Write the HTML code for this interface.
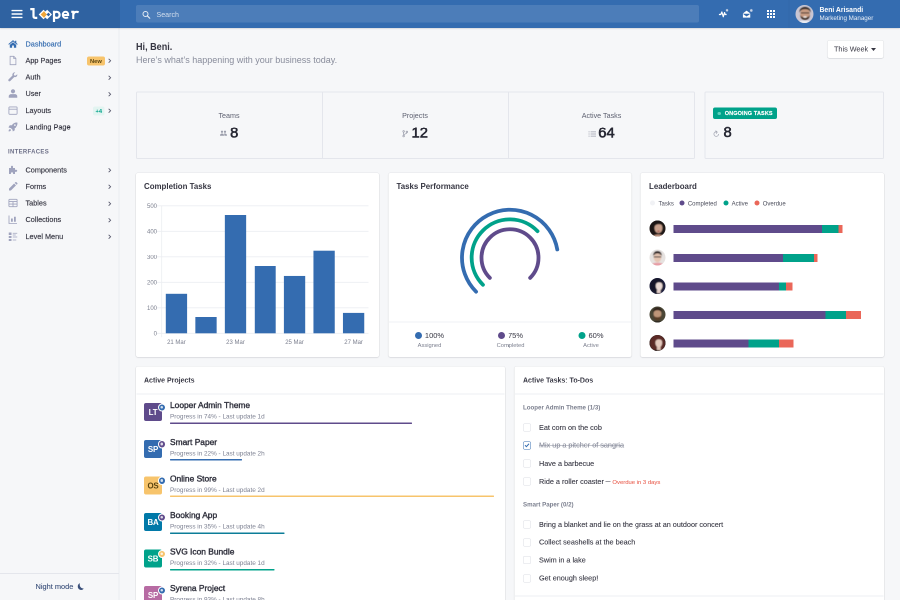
<!DOCTYPE html>
<html><head><meta charset="utf-8">
<style>
*{box-sizing:border-box;margin:0;padding:0}
html,body{width:900px;height:600px;overflow:hidden;background:#f6f7f9}
body{font-family:"Liberation Sans",sans-serif;color:#363642}
#app{position:absolute;left:0;top:0;width:1800px;height:1200px;transform:scale(.5);transform-origin:0 0;background:#f6f7f9;overflow:hidden;will-change:transform}
.abs{position:absolute}
/* header */
#hdr{position:absolute;left:0;top:0;width:1800px;height:56px;background:#346cb0;box-shadow:0 1px 3px rgba(20,20,31,.2)}
#brand{position:absolute;left:0;top:0;width:240px;height:56px;background:#2f62a1}
#search{position:absolute;left:272px;top:10px;width:1126px;height:35px;background:rgba(255,255,255,.12);border-radius:4px}
#search span{position:absolute;left:41px;top:11px;font-size:14.2px;color:rgba(255,255,255,.75)}
/* sidebar */
#side{position:absolute;left:0;top:56px;width:239px;height:1144px;background:#f6f7f9;border-right:2px solid #eaecf0}
.mi{position:absolute;left:0;width:238px;height:33px;font-size:14.6px;color:#363642}
.mi .t{position:absolute;left:51px;top:8px;white-space:nowrap;-webkit-text-stroke:.3px currentColor}
.mi svg.ic{position:absolute;left:16px;top:6px;width:20px;height:20px}
.mi .ch{position:absolute;left:216px;top:11.500px;width:7px;height:11px}
.mi.act{color:#346cb0}
.mi.act .t{font-weight:400}

.bnew{position:absolute;left:174px;top:8px;height:18px;line-height:18px;padding:0 6px;font-size:11.500px;font-weight:700;color:#5a4410;background:#f7c46c;border-radius:4px}
.bp4{position:absolute;left:186px;top:8px;height:18px;line-height:18px;padding:0 5px;font-size:11.500px;font-weight:700;color:#00a28a;background:#e3f4f1;border-radius:4px}
.mh{position:absolute;left:16px;font-size:12px;font-weight:700;letter-spacing:.6px;color:#6c6f87}
.sfoot{position:absolute;left:0;top:1090px;width:238px;height:54px;border-top:2px solid #e4e6ec;}
.sfoot span{position:absolute;left:71px;top:17px;font-size:14.800px;color:#3a4f7a;-webkit-text-stroke:.2px currentColor}
.sfoot svg{position:absolute;left:153px;top:16px;width:18px;height:18px}

.ml{font-size:14.300px;color:#5d6070;white-space:nowrap}
.mv{font-size:29.500px;font-weight:400;color:#262733;white-space:nowrap;line-height:34px;-webkit-text-stroke:1.150px #262733}
.card{background:#fff;border-radius:4px;box-shadow:0 0 0 1px rgba(20,20,31,.05),0 1px 3px 0 rgba(20,20,31,.15)}
.ct{font-size:15.800px;font-weight:700;color:#363642;white-space:nowrap}
svg text{font-family:"Liberation Sans",sans-serif}

.ch2{font-size:14px;font-weight:700;color:#363642;white-space:nowrap}
.pn{font-size:16.800px;font-weight:400;color:#30313d;white-space:nowrap;-webkit-text-stroke:.75px currentColor}
.ps{font-size:12.750px;color:#7d8192;white-space:nowrap}
.th{font-size:12.300px;font-weight:700;color:#7b7f8e;white-space:nowrap}
.ti{font-size:14.500px;color:#363642;white-space:nowrap;-webkit-text-stroke:.2px currentColor}
</style></head><body>
<div id="app">
<!--SIDEBAR-->
<div id="side"><div class="mi act" style="top:15.5px"><svg class="ic" viewBox="0 0 20 20"><path d="M10 2.2 L0.6 10.2 L2 11.6 L10 4.9 L18 11.6 L19.4 10.2 L16.6 7.8 V3.4 H14.2 V5.8 Z M10 6.4 L3.6 11.8 V17.6 H8.2 V13 H11.8 V17.6 H16.4 V11.8 Z" fill="#346cb0"/></svg><span class="t">Dashboard</span></div><div class="mi" style="top:48.7px"><svg class="ic" viewBox="0 0 20 20"><path d="M4.2 1.6 H11.6 L15.8 5.8 V18.4 H4.2 Z M11.4 1.8 V6 H15.6" fill="none" stroke="#9fa3bd" stroke-width="1.6"/></svg><span class="t">App Pages</span><span class="bnew">New</span><svg class="ch" viewBox="0 0 8 12"><path d="M1.5 1.5 L6 6 L1.5 10.5" fill="none" stroke="#55566a" stroke-width="2"/></svg></div><div class="mi" style="top:82.0px"><svg class="ic" viewBox="0 0 20 20"><path d="M18.6 4.6 c.5 2.6-.9 5.1-3.6 5.6 c-.9 .2-1.7 .1-2.5-.2 L4.6 18 c-1 1-2.6 1-3.4 0 c-.9-.9-.9-2.4 0-3.300 L9 6.900 c-.3-.8-.4-1.700-.200-2.500 c.6-2.600 3.200-4.100 5.700-3.500 L11.600 3.800 l.5 2.900 2.900 .5 Z" fill="#9fa3bd"/></svg><span class="t">Auth</span><svg class="ch" viewBox="0 0 8 12"><path d="M1.5 1.5 L6 6 L1.5 10.5" fill="none" stroke="#55566a" stroke-width="2"/></svg></div><div class="mi" style="top:115.2px"><svg class="ic" viewBox="0 0 20 20"><circle cx="10" cy="5.600" r="4.2" fill="#9fa3bd"/><path d="M1.500 18.500 V15.500 c0-2.600 2.400-4.300 5-4.300 h7 c2.600 0 5 1.700 5 4.300 V18.500 Z" fill="#9fa3bd"/></svg><span class="t">User</span><svg class="ch" viewBox="0 0 8 12"><path d="M1.5 1.5 L6 6 L1.5 10.5" fill="none" stroke="#55566a" stroke-width="2"/></svg></div><div class="mi" style="top:148.5px"><svg class="ic" viewBox="0 0 20 20"><rect x="1.800" y="2.800" width="16.400" height="14.800" rx="1.500" fill="none" stroke="#9fa3bd" stroke-width="1.700"/><path d="M2 7.400 H18" stroke="#9fa3bd" stroke-width="1.700"/></svg><span class="t">Layouts</span><span class="bp4">+4</span><svg class="ch" viewBox="0 0 8 12"><path d="M1.5 1.5 L6 6 L1.5 10.5" fill="none" stroke="#55566a" stroke-width="2"/></svg></div><div class="mi" style="top:181.7px"><svg class="ic" viewBox="0 0 20 20"><path d="M18.800 1.200 c-4.800-.5-8.600 1.400-11 5.300 H3.600 L1 10.400 l3.600 .6 l4.400 4.400 l.6 3.600 l3.900-2.600 v-4.200 c3.900-2.400 5.800-6.200 5.300-11 Z M13.800 8 a1.700 1.700 0 1 1 0-3.400 a1.700 1.700 0 0 1 0 3.400 Z M1.200 18.800 c0-2.500 .8-4.400 2.600-4.600 c1.200-.1 2.100 .8 2 2 c-.2 1.800-2.100 2.600-4.600 2.600 Z" fill="#9fa3bd"/></svg><span class="t">Landing Page</span></div><div class="mi" style="top:267.5px"><svg class="ic" viewBox="0 0 20 20"><path d="M2 6 H6.200 C5.200 3.200 6.200 1.600 8 1.600 S10.800 3.200 9.800 6 H14 V9.800 C16.800 8.800 18.400 9.800 18.400 11.600 S16.800 14.400 14 13.400 V18 H10 C10.800 15.800 9.600 14.600 8 14.600 S5.200 15.800 6 18 H2 Z" fill="#9fa3bd"/></svg><span class="t">Components</span><svg class="ch" viewBox="0 0 8 12"><path d="M1.5 1.5 L6 6 L1.5 10.5" fill="none" stroke="#55566a" stroke-width="2"/></svg></div><div class="mi" style="top:300.7px"><svg class="ic" viewBox="0 0 20 20"><path d="M2 14.200 L12.200 4 L16 7.800 L5.800 18 H2 Z M13.400 2.800 L14.800 1.400 c.6-.6 1.500-.6 2.100 0 L18.600 3.100 c.6 .6 .6 1.500 0 2.100 L17.200 6.600 Z" fill="#9fa3bd"/></svg><span class="t">Forms</span><svg class="ch" viewBox="0 0 8 12"><path d="M1.5 1.5 L6 6 L1.5 10.5" fill="none" stroke="#55566a" stroke-width="2"/></svg></div><div class="mi" style="top:334.0px"><svg class="ic" viewBox="0 0 20 20"><rect x="1.800" y="2.600" width="16.400" height="14.800" rx="1.400" fill="none" stroke="#9fa3bd" stroke-width="1.700"/><path d="M2 7.200 H18 M2 12.200 H18 M10 7.200 V17.400" stroke="#9fa3bd" stroke-width="1.700" fill="none"/></svg><span class="t">Tables</span><svg class="ch" viewBox="0 0 8 12"><path d="M1.5 1.5 L6 6 L1.5 10.5" fill="none" stroke="#55566a" stroke-width="2"/></svg></div><div class="mi" style="top:367.2px"><svg class="ic" viewBox="0 0 20 20"><path d="M2 2 V18 H18" fill="none" stroke="#9fa3bd" stroke-width="1.700"/><rect x="6" y="8" width="3.600" height="6.500" fill="#9fa3bd"/><rect x="12" y="4.500" width="3.600" height="10" fill="#9fa3bd"/></svg><span class="t">Collections</span><svg class="ch" viewBox="0 0 8 12"><path d="M1.5 1.5 L6 6 L1.5 10.5" fill="none" stroke="#55566a" stroke-width="2"/></svg></div><div class="mi" style="top:400.5px"><svg class="ic" viewBox="0 0 20 20"><rect x="1.500" y="2" width="5.500" height="5" fill="#9fa3bd"/><rect x="1.500" y="9" width="5.500" height="4" fill="#9fa3bd"/><rect x="1.500" y="15" width="5.500" height="4" fill="#9fa3bd"/><path d="M9.500 3.500 H18.500 M9.500 7 H15.500 M9.500 11 H18.500 M9.500 17 H16.500" stroke="#9fa3bd" stroke-width="1.700"/></svg><span class="t">Level Menu</span><svg class="ch" viewBox="0 0 8 12"><path d="M1.5 1.5 L6 6 L1.5 10.5" fill="none" stroke="#55566a" stroke-width="2"/></svg></div><div class="mh" style="top:240px">INTERFACES</div><div class="sfoot"><span>Night mode</span><svg viewBox="0 0 16 16"><path d="M11.500 13.800 A6.200 6.200 0 0 1 7.300 2 A6.800 6.800 0 0 0 13.800 11.600 A6.200 6.200 0 0 1 11.500 13.800 Z" fill="#3a4f7a" transform="translate(-1 0)"/></svg></div></div>
<!--HEADER-->
<div id="hdr"><div id="brand">
<svg class="abs" style="left:23px;top:19px;width:22px;height:18px" viewBox="0 0 22 18"><path d="M1 2.200 H21 M1 9 H21 M1 15.800 H21" stroke="#fff" stroke-width="2.800" stroke-linecap="round"/></svg>
<svg class="abs" style="left:58px;top:13px;width:104px;height:34px" viewBox="0 0 104 34">
<path d="M2.500 5.200 H9 V19.300 c0 2.500 1.400 3.500 3.600 3.500 H16.500" fill="none" stroke="#fff" stroke-width="4.400"/>
<path d="M29 6.400 L32.700 10.100 L36.400 6.400 L46 16 L36.400 25.600 L32.700 21.900 L29 25.600 L19.400 16 Z" fill="#fff"/>
<path d="M30 9.200 L36.800 16 L30 22.800 L23.200 16 Z" fill="#f0a63a"/>
<path d="M32.500 11 l5 5 -5 5" fill="none" stroke="#fff" stroke-width="2"/>
<path d="M38.800 12.300 L42.500 16 L38.800 19.700 L35.100 16 Z" fill="#2f62a1"/>
<path d="M50 8.400 V31" stroke="#fff" stroke-width="4.400" fill="none"/>
<path d="M50 14.500 c0-2.600 2.200-3.900 5-3.900 c3.600 0 6.200 2.200 6.200 6.100 s-2.600 6.100-6.200 6.100 c-2.800 0-5-1.300-5-3.900" fill="none" stroke="#fff" stroke-width="4.400"/>
<path d="M67.600 17 H78.400 c0-4.200-1.800-6.400-5.300-6.400 s-5.500 2.400-5.500 6.100 s2.200 6.100 5.900 6.100 c1.800 0 3.400-.4 4.600-1.200" fill="none" stroke="#fff" stroke-width="4"/>
<path d="M84.500 10.600 H88.500 V25 M88.500 17 c.6-3.800 2.900-6.300 6.600-6.300 c1.600 0 3 .3 4.200 1" fill="none" stroke="#fff" stroke-width="4.200"/>
</svg>
</div>
<div id="search"><svg class="abs" style="left:12px;top:11px;width:17px;height:17px" viewBox="0 0 17 17"><circle cx="7" cy="7" r="5" fill="none" stroke="rgba(255,255,255,.85)" stroke-width="2"/><path d="M10.800 10.800 L15.500 15.500" stroke="rgba(255,255,255,.85)" stroke-width="2.400" stroke-linecap="round"/></svg><span>Search</span></div>
<svg class="abs" style="left:1437px;top:16px;width:20px;height:20px" viewBox="0 0 24 24"><path d="M1 15.500 H5.500 L8 9.500 L11.500 21 L14.500 11 L16 15.500 H19.500" fill="none" stroke="#fff" stroke-width="2.900" stroke-linejoin="round"/><circle cx="20.500" cy="5.500" r="3.400" fill="#c9d3e6" stroke="#346cb0" stroke-width="1"/></svg>
<svg class="abs" style="left:1484px;top:17px;width:22px;height:22px" viewBox="0 0 24 24"><path d="M2 10.500 L10 4.500 L18 10.500 V20 H2 Z" fill="#fff"/><path d="M4.500 11.500 H15.500 V13.500 L10 17 L4.500 13.500 Z" fill="#346cb0"/><path d="M2 11 L10 16.500 L18 11" fill="none" stroke="#346cb0" stroke-width="1.200"/><circle cx="20.300" cy="4.300" r="3.400" fill="#c9d3e6" stroke="#346cb0" stroke-width="1"/></svg>
<svg class="abs" style="left:1534px;top:20px;width:16px;height:16px" viewBox="0 0 16 16"><g fill="#fff"><rect x="0" y="0" width="4" height="4"/><rect x="6" y="0" width="4" height="4"/><rect x="12" y="0" width="4" height="4"/><rect x="0" y="6" width="4" height="4"/><rect x="6" y="6" width="4" height="4"/><rect x="12" y="6" width="4" height="4"/><rect x="0" y="12" width="4" height="4"/><rect x="6" y="12" width="4" height="4"/><rect x="12" y="12" width="4" height="4"/></g></svg>
<div class="abs" style="left:1577px;top:0;width:2px;height:56px;background:rgba(0,0,0,.035)"></div>
<svg class="abs" style="left:1591px;top:10px;width:36px;height:36px" viewBox="0 0 36 36"><defs><clipPath id="av0"><circle cx="18" cy="18" r="18"/></clipPath><filter id="bl0"><feGaussianBlur stdDeviation=".9"/></filter></defs><g clip-path="url(#av0)"><rect width="36" height="36" fill="#c9c6d3"/><g filter="url(#bl0)" transform="translate(18 19) scale(1.12) translate(-18 -18)"><path d="M2 40 c0-9 7-11 16-11 s16 2 16 11 Z" fill="#e9ebf2"/><ellipse cx="19" cy="17" rx="8.800" ry="11" fill="#c89b82"/><path d="M9 15 c-1.500-14 21.500-14 20 0 c-2-5-5-6.500-10-6.500 s-8 1.500-10 6.500 Z" fill="#2a211f"/><path d="M10.300 18 c0 13 17.400 13 17.400 0 c-1 4-4 5-8.700 5 s-7.700-1-8.700-5 Z" fill="#3c2a23"/><ellipse cx="19" cy="22.500" rx="3.300" ry="1.500" fill="#f3ece8"/><rect x="11.500" y="14.300" width="15" height="1.800" fill="#2f2522"/></g></g></svg>
<div class="abs" style="left:1639px;top:11px;font-size:14.500px;font-weight:700;color:#fff;white-space:nowrap;transform:scaleX(.94);transform-origin:0 0">Beni Arisandi</div>
<div class="abs" style="left:1639px;top:29px;font-size:12.500px;color:rgba(255,255,255,.9);white-space:nowrap">Marketing Manager</div>
</div>
<!--PAGE-->
<div id="page">
<div class="abs" style="left:272px;top:81px;font-size:20.500px;font-weight:700;color:#363642;white-space:nowrap;transform:scaleX(.885);transform-origin:0 0" id="t1">Hi, Beni.</div>
<div class="abs" style="left:272px;top:110px;font-size:18px;color:#888c9b;white-space:nowrap" id="t2">Here’s what’s happening with your business today.</div>
<div class="abs" style="left:1655px;top:81px;width:112px;height:35px;background:#fff;border-radius:4px;box-shadow:0 0 0 1px rgba(61,70,79,.12),0 1px 2px rgba(61,70,79,.15)"><span class="abs" style="left:13px;top:9px;font-size:14.500px;color:#363642;white-space:nowrap" id="tw">This Week</span><svg class="abs" style="left:87px;top:15px;width:10px;height:6px" viewBox="0 0 10 6"><path d="M0 0 H10 L5 6 Z" fill="#363642"/></svg></div>
<div class="abs" style="left:272px;top:183px;width:1118px;height:135px;border:2px solid #e4e6ec;border-radius:3px"></div>
<div class="abs" style="left:644px;top:184px;width:2px;height:133px;background:#e4e6ec"></div>
<div class="abs" style="left:1016px;top:184px;width:2px;height:133px;background:#e4e6ec"></div>
<div class="abs" style="left:1409px;top:183px;width:359px;height:135px;border:2px solid #e4e6ec;border-radius:3px"></div>
<div class="abs ml" style="left:358px;top:223px;width:200px;text-align:center">Teams</div><div class="abs mv" style="left:358px;top:247.500px;width:200px;text-align:center"><svg viewBox="0 0 16 14" style="width:16px;height:14px;margin-right:5px;vertical-align:1px"><g fill="#9a9dab"><circle cx="5" cy="3.500" r="2.200"/><circle cx="11" cy="3.500" r="2.200"/><path d="M1 11.500 c0-3 1.500-4.500 4-4.500 s4 1.500 4 4.500 Z"/><path d="M9.800 11.500 c0-2-.4-3.400-1.200-4.200 c.7-.2 1.500-.3 2.400-.3 c2.500 0 4 1.500 4 4.500 Z"/></g></svg><span id="m1">8</span></div>
<div class="abs ml" style="left:730px;top:223px;width:200px;text-align:center">Projects</div><div class="abs mv" style="left:730px;top:247.500px;width:200px;text-align:center"><svg viewBox="0 0 14 16" style="width:13px;height:15px;margin-right:6px;vertical-align:0px"><g fill="none" stroke="#9a9dab" stroke-width="1.600"><circle cx="3.500" cy="3" r="1.700"/><circle cx="3.500" cy="13" r="1.700"/><circle cx="10.500" cy="4" r="1.700"/><path d="M3.500 4.700 V11.300 M10.500 5.700 c0 3-7 2.500-7 5.600"/></g></svg><span id="m2">12</span></div>
<div class="abs ml" style="left:1103px;top:223px;width:200px;text-align:center">Active Tasks</div><div class="abs mv" style="left:1103px;top:247.500px;width:200px;text-align:center"><svg viewBox="0 0 16 12" style="width:15px;height:12px;margin-right:5px;vertical-align:1px"><g stroke="#9a9dab" stroke-width="1.700"><path d="M0 1.500 H2.400 M4.500 1.500 H16 M0 6 H2.400 M4.500 6 H16 M0 10.500 H2.400 M4.500 10.500 H16"/></g></svg><span id="m3">64</span></div>
<div class="abs" style="left:1426px;top:215px;width:128px;height:23px;background:#00a28a;border-radius:4px"><span class="abs" style="left:9px;top:8.500px;width:6.500px;height:6.500px;border-radius:50%;background:#5fd0bd"></span><span class="abs" style="left:23.500px;top:5px;font-size:11px;font-weight:700;letter-spacing:.25px;color:#fff;white-space:nowrap;-webkit-text-stroke:.3px #fff" id="og">ONGOING TASKS</span></div>
<div class="abs mv" style="left:1426px;top:247px;text-align:left"><svg viewBox="0 0 14 14" style="width:13px;height:14px;margin-right:8px;vertical-align:0"><path d="M7 3 A5 5 0 1 0 12 8" fill="none" stroke="#9a9dab" stroke-width="1.500"/><path d="M7 7.500 L9.500 3.500" stroke="#9a9dab" stroke-width="1.400"/><path d="M5.500 .8 L8.500 3 L5.500 5" fill="none" stroke="#9a9dab" stroke-width="1.300"/></svg><span id="m4">8</span></div>
<div class="abs card" style="left:272px;top:346px;width:486px;height:368px"></div>
<div class="abs card" style="left:777px;top:346px;width:486px;height:368px"></div>
<div class="abs card" style="left:1281px;top:346px;width:487px;height:368px"></div>
<div class="abs ct" style="left:288px;top:364px">Completion Tasks</div>
<div class="abs ct" style="left:793px;top:364px">Tasks Performance</div>
<div class="abs ct" style="left:1298px;top:364px">Leaderboard</div>
<svg class="abs" style="left:272px;top:346px;width:486px;height:368px" viewBox="272 346 486 368"><path d="M313 666.6 H737" stroke="#ebedf1" stroke-width="1.600"/><text x="314" y="670.8" text-anchor="end" font-size="12" fill="#7b7f8e">0</text><path d="M313 615.6 H737" stroke="#ebedf1" stroke-width="1.600"/><text x="314" y="619.8" text-anchor="end" font-size="12" fill="#7b7f8e">100</text><path d="M313 564.6 H737" stroke="#ebedf1" stroke-width="1.600"/><text x="314" y="568.8" text-anchor="end" font-size="12" fill="#7b7f8e">200</text><path d="M313 513.6 H737" stroke="#ebedf1" stroke-width="1.600"/><text x="314" y="517.8" text-anchor="end" font-size="12" fill="#7b7f8e">300</text><path d="M313 462.6 H737" stroke="#ebedf1" stroke-width="1.600"/><text x="314" y="466.8" text-anchor="end" font-size="12" fill="#7b7f8e">400</text><path d="M313 411.6 H737" stroke="#ebedf1" stroke-width="1.600"/><text x="314" y="415.8" text-anchor="end" font-size="12" fill="#7b7f8e">500</text><path d="M323.400 411.6 V674.6" stroke="#ebedf1" stroke-width="1.600"/><rect x="331.6" y="587.6" width="42.600" height="79.0" fill="#346cb0"/><rect x="390.7" y="634.0" width="42.600" height="32.6" fill="#346cb0"/><rect x="449.7" y="430.0" width="42.600" height="236.6" fill="#346cb0"/><rect x="508.8" y="532.0" width="42.600" height="134.6" fill="#346cb0"/><rect x="567.8" y="551.9" width="42.600" height="114.8" fill="#346cb0"/><rect x="626.9" y="501.4" width="42.600" height="165.2" fill="#346cb0"/><rect x="685.9" y="625.8" width="42.600" height="40.8" fill="#346cb0"/><text x="352.9" y="687.6" text-anchor="middle" font-size="12" fill="#7b7f8e">21 Mar</text><text x="471.0" y="687.6" text-anchor="middle" font-size="12" fill="#7b7f8e">23 Mar</text><text x="589.1" y="687.6" text-anchor="middle" font-size="12" fill="#7b7f8e">25 Mar</text><text x="707.2" y="687.6" text-anchor="middle" font-size="12" fill="#7b7f8e">27 Mar</text></svg>
<svg class="abs" style="left:777px;top:346px;width:486px;height:368px" viewBox="777 344 486 368"><path d="M952.12 581.38 A96 96 0 1 1 1114.54 496.83" fill="none" stroke="#346cb0" stroke-width="7.600" stroke-linecap="round"/><path d="M965.91 567.59 A76.5 76.5 0 1 1 1075.03 460.36" fill="none" stroke="#00a28a" stroke-width="7.600" stroke-linecap="round"/><path d="M979.69 553.81 A57 57 0 1 1 1060.31 553.81" fill="none" stroke="#5f4b8b" stroke-width="7.600" stroke-linecap="round"/></svg>
<div class="abs" style="left:778px;top:643px;width:484px;height:2px;background:#eff0f4"></div>
<div class="abs" style="left:779px;top:662px;width:160px;text-align:center;font-size:15px;color:#363642;white-space:nowrap"><span style="display:inline-block;width:14px;height:14px;border-radius:50%;background:#346cb0;vertical-align:-1.500px;margin-right:6px"></span>100%</div><div class="abs" style="left:779px;top:684px;width:160px;text-align:center;font-size:11.500px;color:#7b7f8e;white-space:nowrap">Assigned</div>
<div class="abs" style="left:941px;top:662px;width:160px;text-align:center;font-size:15px;color:#363642;white-space:nowrap"><span style="display:inline-block;width:14px;height:14px;border-radius:50%;background:#5f4b8b;vertical-align:-1.500px;margin-right:6px"></span>75%</div><div class="abs" style="left:941px;top:684px;width:160px;text-align:center;font-size:11.500px;color:#7b7f8e;white-space:nowrap">Completed</div>
<div class="abs" style="left:1102px;top:662px;width:160px;text-align:center;font-size:15px;color:#363642;white-space:nowrap"><span style="display:inline-block;width:14px;height:14px;border-radius:50%;background:#00a28a;vertical-align:-1.500px;margin-right:6px"></span>60%</div><div class="abs" style="left:1102px;top:684px;width:160px;text-align:center;font-size:11.500px;color:#7b7f8e;white-space:nowrap">Active</div>
<div class="abs" style="left:1298px;top:399.500px;font-size:12px;color:#4a4c5a;white-space:nowrap"><span style="display:inline-block;width:10px;height:10px;border-radius:50%;background:#f1f2f5;vertical-align:-.5px;margin:0 7px 0 2px"></span>Tasks<span style="display:inline-block;width:10px;height:10px;border-radius:50%;background:#5f4b8b;vertical-align:-.5px;margin:0 6.500px 0 11.500px"></span>Completed<span style="display:inline-block;width:10px;height:10px;border-radius:50%;background:#00a28a;vertical-align:-.5px;margin:0 6.500px 0 13px"></span>Active<span style="display:inline-block;width:10px;height:10px;border-radius:50%;background:#ea6759;vertical-align:-.5px;margin:0 6.500px 0 13px"></span>Overdue</div>
<div class="abs" style="left:1346.6px;top:450.4px;width:297.4px;height:16px;background:#5f4b8b"></div>
<div class="abs" style="left:1644.0px;top:450.4px;width:33.4px;height:16px;background:#00a28a"></div>
<div class="abs" style="left:1677.4px;top:450.4px;width:8.0px;height:16px;background:#ea6759"></div>
<svg class="abs" style="left:1298.6px;top:441.4px;width:32px;height:32px" viewBox="0 0 32 32"><defs><clipPath id="lb0"><circle cx="16" cy="16" r="16"/></clipPath><filter id="lbf0"><feGaussianBlur stdDeviation=".7"/></filter></defs><g clip-path="url(#lb0)"><rect width="32" height="32" fill="#2b201f"/><g filter="url(#lbf0)" transform="translate(16 17) scale(1.28) translate(-16 -15.500)"><ellipse cx="16" cy="14" rx="12" ry="13" fill="#1a1312"/><path d="M7 34 c0-8 4-10 10-10 s10 2 10 10 Z" fill="#b98f7c"/><ellipse cx="17.500" cy="14" rx="6.200" ry="8" fill="#c9a18d"/><path d="M10 13 c0-10 15-10 15 -1 c-2-3-4-4-7-4 s-6 1.500-8 5 Z" fill="#1a1312"/><ellipse cx="17.500" cy="19" rx="2" ry=".9" fill="#a3403f"/></g></g></svg>
<div class="abs" style="left:1346.6px;top:507.6px;width:219.4px;height:16px;background:#5f4b8b"></div>
<div class="abs" style="left:1566.0px;top:507.6px;width:62.0px;height:16px;background:#00a28a"></div>
<div class="abs" style="left:1628.0px;top:507.6px;width:7.4px;height:16px;background:#ea6759"></div>
<svg class="abs" style="left:1298.6px;top:498.6px;width:32px;height:32px" viewBox="0 0 32 32"><defs><clipPath id="lb1"><circle cx="16" cy="16" r="16"/></clipPath><filter id="lbf1"><feGaussianBlur stdDeviation=".7"/></filter></defs><g clip-path="url(#lb1)"><rect width="32" height="32" fill="#e6e2e0"/><g filter="url(#lbf1)" transform="translate(16 17) scale(1.28) translate(-16 -15.500)"><path d="M3 36 c0-10 5-13 13-13 s13 3 13 13 Z" fill="#e79da5"/><ellipse cx="16" cy="14.500" rx="6" ry="7.500" fill="#e6c5b2"/><path d="M9.500 12.500 c-1-10 14-10 13 0 c-1.500-3-3.500-4-6.500-4 s-5 1-6.500 4 Z" fill="#2b2423"/><rect x="10.300" y="13" width="11.400" height="1.700" fill="#3a3030"/></g></g></svg>
<div class="abs" style="left:1346.6px;top:564.8px;width:211.4px;height:16px;background:#5f4b8b"></div>
<div class="abs" style="left:1558.0px;top:564.8px;width:14.0px;height:16px;background:#00a28a"></div>
<div class="abs" style="left:1572.0px;top:564.8px;width:13.4px;height:16px;background:#ea6759"></div>
<svg class="abs" style="left:1298.6px;top:555.8px;width:32px;height:32px" viewBox="0 0 32 32"><defs><clipPath id="lb2"><circle cx="16" cy="16" r="16"/></clipPath><filter id="lbf2"><feGaussianBlur stdDeviation=".7"/></filter></defs><g clip-path="url(#lb2)"><rect width="32" height="32" fill="#242645"/><g filter="url(#lbf2)" transform="translate(16 17) scale(1.28) translate(-16 -15.500)"><ellipse cx="15" cy="14" rx="11" ry="12" fill="#14152a"/><path d="M6 36 c0-9 4-11 11-11 s11 2 11 11 Z" fill="#1a1b33"/><path d="M15 26 h6 v-5 h-6 Z" fill="#e3cfc8"/><ellipse cx="18.500" cy="14.500" rx="5.300" ry="7.200" fill="#ebdbd5"/><path d="M12 14 c-1-10 13-10 13-1 c-2-3-4-4-6.500-4 s-5 1.500-6.500 5 Z" fill="#14152a"/></g></g></svg>
<div class="abs" style="left:1346.6px;top:622.0px;width:304.0px;height:16px;background:#5f4b8b"></div>
<div class="abs" style="left:1650.6px;top:622.0px;width:41.4px;height:16px;background:#00a28a"></div>
<div class="abs" style="left:1692.0px;top:622.0px;width:30.0px;height:16px;background:#ea6759"></div>
<svg class="abs" style="left:1298.6px;top:613.0px;width:32px;height:32px" viewBox="0 0 32 32"><defs><clipPath id="lb3"><circle cx="16" cy="16" r="16"/></clipPath><filter id="lbf3"><feGaussianBlur stdDeviation=".7"/></filter></defs><g clip-path="url(#lb3)"><rect width="32" height="32" fill="#4a4636"/><g filter="url(#lbf3)" transform="translate(16 17) scale(1.28) translate(-16 -15.500)"><path d="M4 36 c0-9 5-11 12-11 s12 2 12 11 Z" fill="#25201b"/><ellipse cx="16" cy="14" rx="6.300" ry="8" fill="#be9578"/><path d="M9.700 15 c0 12 12.600 12 12.600 0 c-1 3-3 4-6.300 4 s-5.300-1-6.300-4 Z" fill="#5a3c27"/><path d="M9 12.500 c-1-11 15-11 14 0 c-1.500-3.500-4-4.500-7-4.500 s-5.500 1-7 4.500 Z" fill="#2a1d15"/></g></g></svg>
<div class="abs" style="left:1346.6px;top:679.2px;width:150.0px;height:16px;background:#5f4b8b"></div>
<div class="abs" style="left:1496.6px;top:679.2px;width:61.4px;height:16px;background:#00a28a"></div>
<div class="abs" style="left:1558.0px;top:679.2px;width:29.4px;height:16px;background:#ea6759"></div>
<svg class="abs" style="left:1298.6px;top:670.2px;width:32px;height:32px" viewBox="0 0 32 32"><defs><clipPath id="lb4"><circle cx="16" cy="16" r="16"/></clipPath><filter id="lbf4"><feGaussianBlur stdDeviation=".7"/></filter></defs><g clip-path="url(#lb4)"><rect width="32" height="32" fill="#382524"/><g filter="url(#lbf4)" transform="translate(16 17) scale(1.28) translate(-16 -15.500)"><rect width="32" height="32" fill="#382524"/><ellipse cx="16" cy="15" rx="11.500" ry="13" fill="#5c2b27"/><path d="M5 36 c0-9 4-11 11-11 s11 2 11 11 Z" fill="#1b1515"/><path d="M15 26 h6 v-5 h-6 Z" fill="#dcc0b4"/><ellipse cx="18" cy="14.500" rx="5.300" ry="7.300" fill="#e5cabe"/><path d="M11.500 14 c-1-10 13.500-10 13-1 c-2-3-4-4-6.500-4 s-5 1.500-6.500 5 Z" fill="#5c2b27"/></g></g></svg>
<div class="abs card" style="left:272px;top:733px;width:738px;height:480px"></div>
<div class="abs card" style="left:1029px;top:733px;width:739px;height:480px"></div>
<div class="abs ch2" style="left:288px;top:752px">Active Projects</div>
<div class="abs ch2" style="left:1046px;top:752px">Active Tasks: To-Dos</div>
<div class="abs" style="left:273px;top:787px;width:736px;height:2px;background:#eceef2"></div>
<div class="abs" style="left:1030px;top:787px;width:737px;height:2px;background:#eceef2"></div>
<div class="abs" style="left:1030px;top:1191px;width:737px;height:2px;background:#eceef2"></div>
<div class="abs" style="left:288px;top:806.4px;width:36px;height:36px;border-radius:4px;background:#5f4b8b;color:#fff;font-size:15.800px;font-weight:700;line-height:38px;text-align:center;letter-spacing:-.3px">LT</div>
<div class="abs" style="left:315.500px;top:806.9px;width:16.500px;height:16.500px;border-radius:50%;background:#346cb0;border:2px solid #fff"><span class="abs" style="left:3px;top:3px;width:5.500px;height:5.500px;border-radius:50%;background:rgba(255,255,255,.8)"></span></div>
<div class="abs pn" style="left:340px;top:801.4px">Looper Admin Theme</div>
<div class="abs ps" style="left:340px;top:825.4px">Progress in 74% - Last update 1d</div>
<div class="abs" style="left:340px;top:844.9px;width:484.0px;height:3px;background:#5f4b8b;border-radius:1px"></div>
<div class="abs" style="left:288px;top:879.6px;width:36px;height:36px;border-radius:4px;background:#346cb0;color:#fff;font-size:15.800px;font-weight:700;line-height:38px;text-align:center;letter-spacing:-.3px">SP</div>
<div class="abs" style="left:315.500px;top:880.1px;width:16.500px;height:16.500px;border-radius:50%;background:#5f4b8b;border:2px solid #fff"><span class="abs" style="left:3px;top:3px;width:5.500px;height:5.500px;border-radius:50%;background:rgba(255,255,255,.8)"></span></div>
<div class="abs pn" style="left:340px;top:874.6px">Smart Paper</div>
<div class="abs ps" style="left:340px;top:898.6px">Progress in 22% - Last update 2h</div>
<div class="abs" style="left:340px;top:918.1px;width:143.9px;height:3px;background:#346cb0;border-radius:1px"></div>
<div class="abs" style="left:288px;top:952.8px;width:36px;height:36px;border-radius:4px;background:#f7c46c;color:#5a4410;font-size:15.800px;font-weight:700;line-height:38px;text-align:center;letter-spacing:-.3px">OS</div>
<div class="abs" style="left:315.500px;top:953.3px;width:16.500px;height:16.500px;border-radius:50%;background:#346cb0;border:2px solid #fff"><span class="abs" style="left:3px;top:3px;width:5.500px;height:5.500px;border-radius:50%;background:rgba(255,255,255,.8)"></span></div>
<div class="abs pn" style="left:340px;top:947.8px">Online Store</div>
<div class="abs ps" style="left:340px;top:971.8px">Progress in 99% - Last update 2d</div>
<div class="abs" style="left:340px;top:991.3px;width:647.5px;height:3px;background:#f7c46c;border-radius:1px"></div>
<div class="abs" style="left:288px;top:1026.0px;width:36px;height:36px;border-radius:4px;background:#0179a8;color:#fff;font-size:15.800px;font-weight:700;line-height:38px;text-align:center;letter-spacing:-.3px">BA</div>
<div class="abs" style="left:315.500px;top:1026.5px;width:16.500px;height:16.500px;border-radius:50%;background:#5f4b8b;border:2px solid #fff"><span class="abs" style="left:3px;top:3px;width:5.500px;height:5.500px;border-radius:50%;background:rgba(255,255,255,.8)"></span></div>
<div class="abs pn" style="left:340px;top:1021.0px">Booking App</div>
<div class="abs ps" style="left:340px;top:1045.0px">Progress in 35% - Last update 4h</div>
<div class="abs" style="left:340px;top:1064.5px;width:228.9px;height:3px;background:#0c7d98;border-radius:1px"></div>
<div class="abs" style="left:288px;top:1099.2px;width:36px;height:36px;border-radius:4px;background:#00a28a;color:#fff;font-size:15.800px;font-weight:700;line-height:38px;text-align:center;letter-spacing:-.3px">SB</div>
<div class="abs" style="left:315.500px;top:1099.7px;width:16.500px;height:16.500px;border-radius:50%;background:#f7c46c;border:2px solid #fff"><span class="abs" style="left:3px;top:3px;width:5.500px;height:5.500px;border-radius:50%;background:rgba(255,255,255,.8)"></span></div>
<div class="abs pn" style="left:340px;top:1094.2px">SVG Icon Bundle</div>
<div class="abs ps" style="left:340px;top:1118.2px">Progress in 32% - Last update 1d</div>
<div class="abs" style="left:340px;top:1137.7px;width:209.3px;height:3px;background:#00a28a;border-radius:1px"></div>
<div class="abs" style="left:288px;top:1172.4px;width:36px;height:36px;border-radius:4px;background:#b76ba3;color:#fff;font-size:15.800px;font-weight:700;line-height:38px;text-align:center;letter-spacing:-.3px">SP</div>
<div class="abs" style="left:315.500px;top:1172.9px;width:16.500px;height:16.500px;border-radius:50%;background:#346cb0;border:2px solid #fff"><span class="abs" style="left:3px;top:3px;width:5.500px;height:5.500px;border-radius:50%;background:rgba(255,255,255,.8)"></span></div>
<div class="abs pn" style="left:340px;top:1167.4px">Syrena Project</div>
<div class="abs ps" style="left:340px;top:1191.4px">Progress in 93% - Last update 8h</div>
<div class="abs" style="left:340px;top:1210.9px;width:608.2px;height:3px;background:#b76ba3;border-radius:1px"></div>
<div class="abs th" style="left:1046px;top:807.500px">Looper Admin Theme (1/3)</div>
<div class="abs" style="left:1046px;top:847.2px;width:16px;height:16px;border-radius:3px;background:#fff;border:1.500px solid #dadce3"></div>
<div class="abs ti" style="left:1078px;top:846.7px;">Eat corn on the cob</div>
<div class="abs" style="left:1046px;top:882.8px;width:16px;height:16px;border-radius:3px;background:#fff;border:1.500px solid #346cb0"><svg class="abs" style="left:1.500px;top:2px;width:10px;height:9px" viewBox="0 0 10 9"><path d="M1 4.500 L3.800 7.300 L9 1.500" fill="none" stroke="#346cb0" stroke-width="2"/></svg></div>
<div class="abs ti" style="left:1078px;top:882.3px;color:#888c9b;text-decoration:line-through">Mix up a pitcher of sangria</div>
<div class="abs" style="left:1046px;top:919.2px;width:16px;height:16px;border-radius:3px;background:#fff;border:1.500px solid #dadce3"></div>
<div class="abs ti" style="left:1078px;top:918.7px;">Have a barbecue</div>
<div class="abs" style="left:1046px;top:955.4px;width:16px;height:16px;border-radius:3px;background:#fff;border:1.500px solid #dadce3"></div>
<div class="abs ti" style="left:1078px;top:954.9px;">Ride a roller coaster <span style="display:inline-block;width:10px;height:1.500px;background:#363642;vertical-align:4.500px;margin:0 0 0 -1px"></span> <span style="font-size:11.800px;color:#ea6759">Overdue in 3 days</span></div>
<div class="abs th" style="left:1046px;top:1001.500px">Smart Paper (0/2)</div>
<div class="abs" style="left:1046px;top:1041.2px;width:16px;height:16px;border-radius:3px;background:#fff;border:1.500px solid #dadce3"></div>
<div class="abs ti" style="left:1078px;top:1040.7px">Bring a blanket and lie on the grass at an outdoor concert</div>
<div class="abs" style="left:1046px;top:1076.8px;width:16px;height:16px;border-radius:3px;background:#fff;border:1.500px solid #dadce3"></div>
<div class="abs ti" style="left:1078px;top:1076.3px">Collect seashells at the beach</div>
<div class="abs" style="left:1046px;top:1112.4px;width:16px;height:16px;border-radius:3px;background:#fff;border:1.500px solid #dadce3"></div>
<div class="abs ti" style="left:1078px;top:1111.9px">Swim in a lake</div>
<div class="abs" style="left:1046px;top:1148.8px;width:16px;height:16px;border-radius:3px;background:#fff;border:1.500px solid #dadce3"></div>
<div class="abs ti" style="left:1078px;top:1148.3px">Get enough sleep!</div>
</div>
</div>
</body></html>
